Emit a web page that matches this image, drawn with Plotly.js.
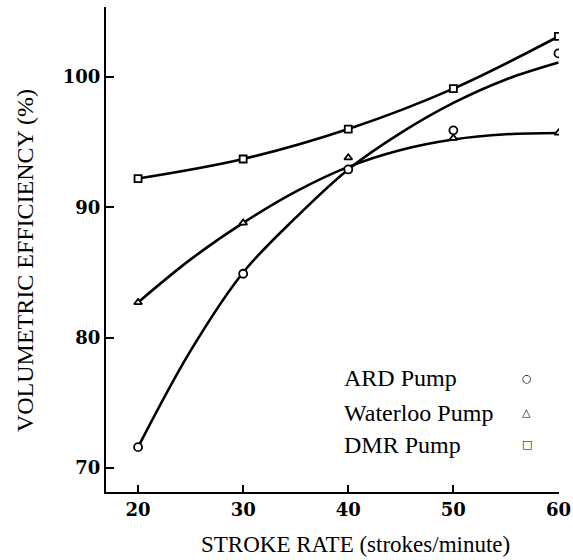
<!DOCTYPE html>
<html>
<head>
<meta charset="utf-8">
<script src="https://cdn.plot.ly/plotly-3.0.1.min.js"></script>
<style>html,body{margin:0;padding:0;background:#fff;}#chart{width:573px;height:560px;}</style>
</head>
<body>
<div id="chart"></div>
<script>
// Measured points
const strokeRates = [20, 30, 40, 50, 60];
const ardPoints = [71.6, 84.9, 92.9, 95.9, 101.8];
const waterlooPoints = [82.7, 88.8, 93.8, 95.3, 95.7];
const dmrPoints = [92.2, 93.7, 96.0, 99.1, 103.1];

// Fitted curves
const curveRates = [20, 25, 30, 35, 40, 45, 50, 55, 60];
const ardCurve = [71.6, 79.0, 85.0, 89.2, 92.9, 95.7, 98.0, 99.8, 101.1];
const waterlooCurve = [82.7, 86.0, 88.8, 91.2, 93.1, 94.4, 95.2, 95.6, 95.7];

const xTicks = [20, 30, 40, 50, 60];
const yTicks = [70, 80, 90, 100];
const legendNames = ['ARD Pump', 'Waterloo Pump', 'DMR Pump'];
const legendSymbols = ['○', '△', '□'];

const lineStyle = {color: '#000', width: 2.6, shape: 'spline', smoothing: 1};
function mk(sym, size) {
  return {symbol: sym, size: size, color: '#fff', line: {color: '#000', width: 1.8}};
}

const traces = [
  {x: curveRates, y: ardCurve, mode: 'lines', line: lineStyle, hoverinfo: 'skip'},
  {x: curveRates, y: waterlooCurve, mode: 'lines', line: lineStyle, hoverinfo: 'skip'},
  {x: strokeRates, y: dmrPoints, mode: 'lines', line: lineStyle},
  {x: strokeRates, y: ardPoints, mode: 'markers', marker: mk('circle', 8)},
  {x: strokeRates, y: waterlooPoints, mode: 'markers', marker: mk('triangle-up', 7)},
  {x: strokeRates, y: dmrPoints, mode: 'markers', marker: mk('square', 7)}
];

const serif = 'Liberation Serif, serif';
const tickFont = {family: 'DejaVu Serif, serif', size: 18, color: '#000', weight: 'bold'};
const legendY = [0.235, 0.163, 0.097];
const annotations = [];
legendNames.forEach((n, i) => {
  annotations.push({xref: 'paper', yref: 'paper', x: 0.521, y: legendY[i], xanchor: 'left', yanchor: 'middle',
    text: n, showarrow: false, font: {family: serif, size: 24, color: '#000'}});
  annotations.push({xref: 'paper', yref: 'paper', x: 0.929, y: legendY[i], xanchor: 'center', yanchor: 'middle',
    text: legendSymbols[i], showarrow: false, font: {family: 'DejaVu Sans', size: 11, color: '#000', weight: 'bold'}});
});
annotations.push({xref: 'paper', yref: 'paper', x: 0.55, y: -0.109, xanchor: 'center', yanchor: 'middle',
  text: 'STROKE RATE (strokes/minute)', showarrow: false, font: {family: serif, size: 23, color: '#000'}});
annotations.push({xref: 'paper', yref: 'paper', x: -0.179, y: 0.478, xanchor: 'center', yanchor: 'middle', textangle: -90,
  text: 'VOLUMETRIC EFFICIENCY (%)', showarrow: false, font: {family: serif, size: 24, color: '#000'}});

const layout = {
  width: 573, height: 560,
  margin: {l: 106, r: 14, t: 7, b: 68},
  paper_bgcolor: '#fff', plot_bgcolor: '#fff',
  showlegend: false,
  xaxis: {
    range: [16.95, 60.05], tickvals: xTicks, ticktext: xTicks.map(String),
    ticks: 'inside', ticklen: 7, tickwidth: 2, tickcolor: '#000',
    showline: true, linecolor: '#000', linewidth: 2, showgrid: false, zeroline: false,
    tickfont: tickFont
  },
  yaxis: {
    range: [68.16, 105.36], tickvals: yTicks, ticktext: yTicks.map(String),
    ticks: 'inside', ticklen: 8, tickwidth: 2, tickcolor: '#000',
    showline: true, linecolor: '#000', linewidth: 2, showgrid: false, zeroline: false,
    tickfont: tickFont
  },
  annotations: annotations
};

Plotly.newPlot('chart', traces, layout, {displayModeBar: false, staticPlot: true});
</script>
</body>
</html>
